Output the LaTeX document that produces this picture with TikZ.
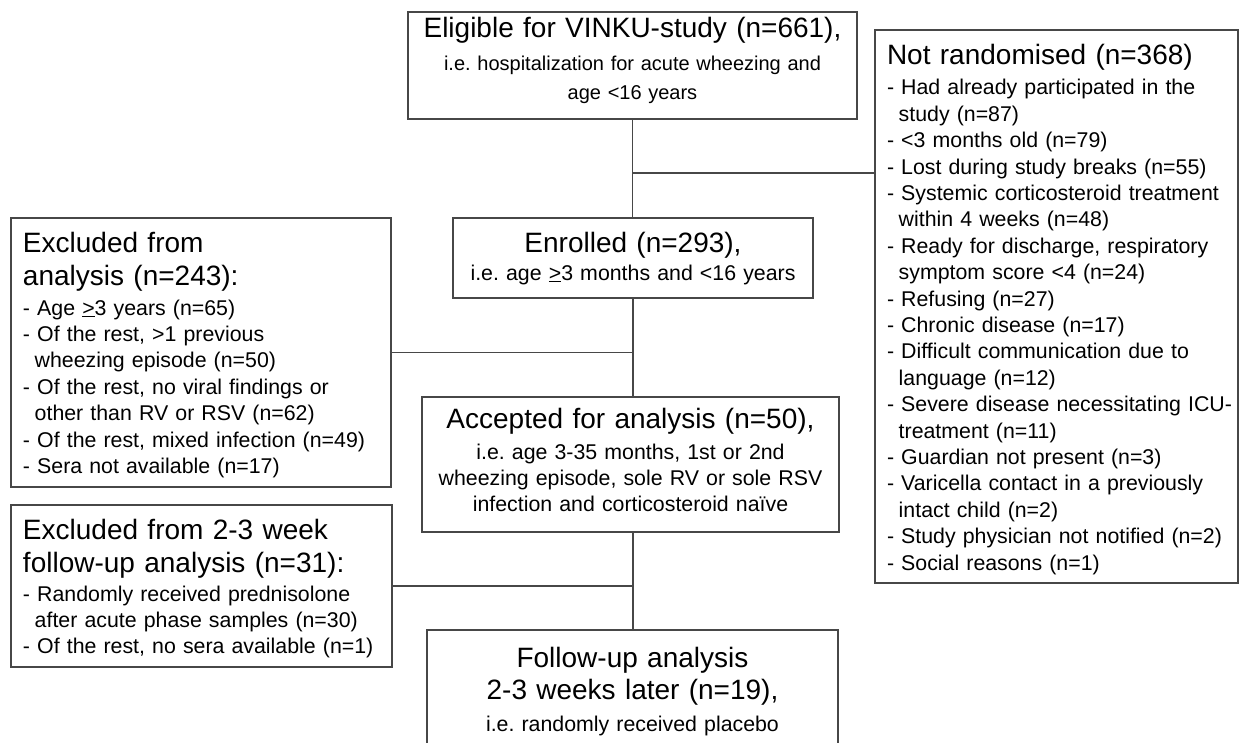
\documentclass[tikz,border=0pt]{standalone}
\usepackage{fontspec}
\setmainfont{Liberation Sans}
\frenchspacing
\newcommand{\fBig}{\fontsize{28}{33}\selectfont}
\newcommand{\fSmall}{\fontsize{21.33}{26.4}\selectfont}
\newcommand{\contind}{\hspace*{0.55em}}
\begin{document}
\begin{tikzpicture}[x=1pt,y=-1pt,
  box/.style={draw=black!72, line width=1.3pt, rectangle, inner sep=0pt, outer sep=0pt},
  conn/.style={draw=black!72, line width=1.3pt},
  txt/.style={inner sep=0pt, outer sep=0pt, text=black},
  ltxt/.style={txt, anchor=base west, text width=380pt, align=left},
  ctxt/.style={txt, anchor=base, align=center}]
\useasboundingbox (0,0) rectangle (1239,743);
\clip (0,0) rectangle (1239,743);
\fill[white] (0,0) rectangle (1239,743);

% boxes
\node[box, minimum width=449pt, minimum height=107pt] (top) at (632.5,65.5) {};
\node[box, minimum width=363pt, minimum height=553pt] (nr) at (1056.5,306.5) {};
\node[box, minimum width=380pt, minimum height=269pt] (ex1) at (201,352.5) {};
\node[box, minimum width=360pt, minimum height=80pt] (enr) at (633,258) {};
\node[box, minimum width=417pt, minimum height=135pt] (acc) at (630.5,464.5) {};
\node[box, minimum width=381pt, minimum height=162pt] (ex2) at (201.5,586) {};
\node[box, minimum width=411pt, minimum height=150pt] (fu) at (632.5,705) {};

% texts
\node[ctxt, text width=440pt, font=\fBig] (topT) at (632.5,38) {Eligible for VINKU-study (n=661),};
\node[ctxt, text width=440pt, font=\fontsize{20}{29}\selectfont] (topS) at (632.5,71) {i.e. hospitalization for acute wheezing and\\age <16 years};

\node[ctxt, text width=350pt, font=\fBig] (enrT) at (633,253) {Enrolled (n=293),};
\node[ctxt, text width=350pt, font=\fSmall] (enrS) at (633,280) {i.e. age \underline{>}3 months and <16 years};

\node[ctxt, text width=410pt, font=\fBig] (accT) at (630.5,428) {Accepted for analysis (n=50),};
\node[ctxt, text width=410pt, font=\fontsize{21.33}{26}\selectfont] (accS) at (630.5,459) {i.e. age 3-35 months, 1st or 2nd\\wheezing episode, sole RV or sole RSV\\infection and corticosteroid naïve};

\node[ctxt, text width=400pt, font=\fontsize{28}{32}\selectfont] (fuT) at (632.5,667) {Follow-up analysis\\2-3 weeks later (n=19),};
\node[ctxt, text width=400pt, font=\fSmall] (fuS) at (632.5,731) {i.e. randomly received placebo};

\node[ltxt, font=\fBig] (nrT) at (887,65) {Not randomised (n=368)};
\node[ltxt, font=\fSmall] (nrS) at (887,95) {- Had already participated in the\\
\contind study (n=87)\\
- <3 months old (n=79)\\
- Lost during study breaks (n=55)\\
- Systemic corticosteroid treatment\\
\contind within 4 weeks (n=48)\\
- Ready for discharge, respiratory\\
\contind symptom score <4 (n=24)\\
- Refusing (n=27)\\
- Chronic disease (n=17)\\
- Difficult communication due to\\
\contind language (n=12)\\
- Severe disease necessitating ICU-\\
\contind treatment (n=11)\\
- Guardian not present (n=3)\\
- Varicella contact in a previously\\
\contind intact child (n=2)\\
- Study physician not notified (n=2)\\
- Social reasons (n=1)};

\node[ltxt, font=\fBig] (ex1T) at (23,253) {Excluded from\\analysis (n=243):};
\node[ltxt, font=\fSmall] (ex1S) at (23,315) {- Age \underline{>}3 years (n=65)\\
- Of the rest, >1 previous\\
\contind wheezing episode (n=50)\\
- Of the rest, no viral findings or\\
\contind other than RV or RSV (n=62)\\
- Of the rest, mixed infection (n=49)\\
- Sera not available (n=17)};

\node[ltxt, font=\fBig] (ex2T) at (23,539) {Excluded from 2-3 week\\follow-up analysis (n=31):};
\node[ltxt, font=\fSmall] (ex2S) at (23,601) {- Randomly received prednisolone\\
\contind after acute phase samples (n=30)\\
- Of the rest, no sera available (n=1)};

% connectors
\coordinate (j1) at (632.5,173);
\draw[conn] (top.south) -- (top.south |- enr.north);
\draw[conn] (j1) -- (j1 -| nr.west);
\draw[conn] (enr.south) -- (enr.south |- acc.north);
\draw[conn] (ex1.east) -- (ex1.east -| enr.south);
\draw[conn] (enr.south |- acc.south) -- (enr.south |- fu.north);
\draw[conn] (ex2.east) -- (ex2.east -| enr.south);
\end{tikzpicture}
\end{document}
